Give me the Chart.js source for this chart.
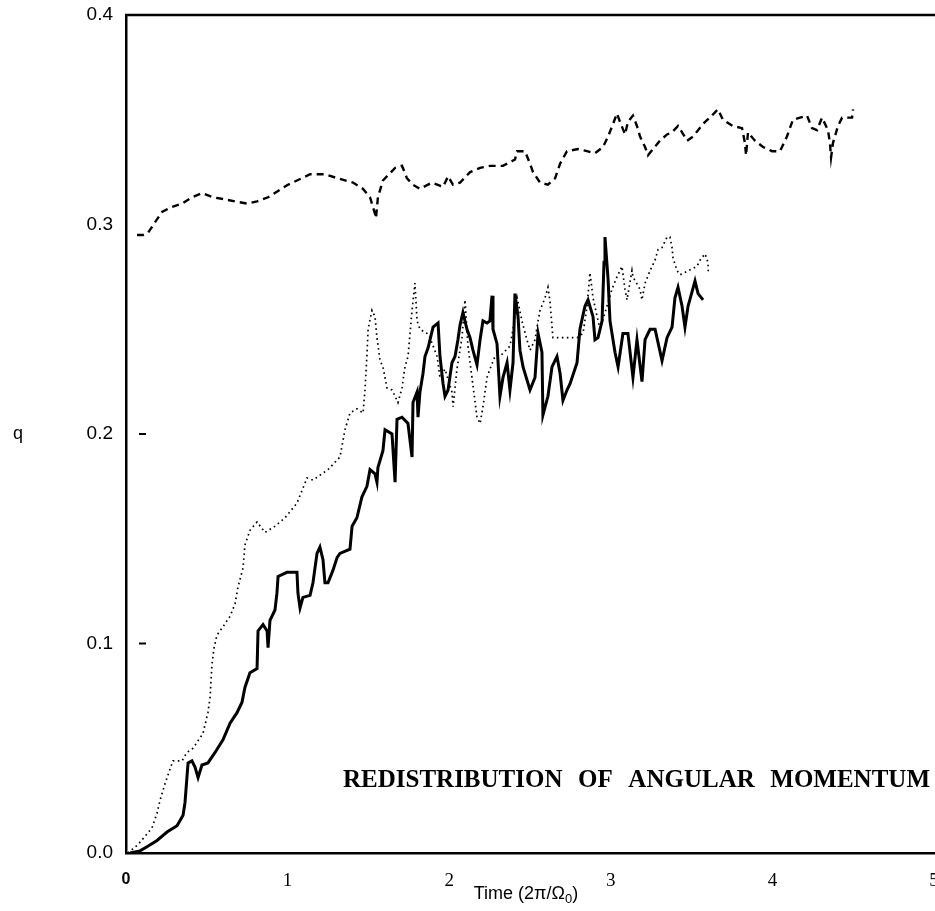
<!DOCTYPE html>
<html>
<head>
<meta charset="utf-8">
<script src="https://cdn.jsdelivr.net/npm/chart.js@4.4.0/dist/chart.umd.min.js"></script>
<style>
  html, body { margin: 0; padding: 0; background: #fff; overflow: hidden; }
</style>
</head>
<body>
<canvas id="chartQ" width="952" height="911"></canvas>
<script>
// tick values
const xTicks = [0, 1, 2, 3, 4, 5];
const yTicks = [0, 0.1, 0.2, 0.3, 0.4];

// dashed curve (top)
const dashedTime = [0.068, 0.105, 0.136, 0.179, 0.223, 0.272, 0.347, 0.408, 0.470, 0.538, 0.613, 0.675, 0.749, 0.811, 0.879, 0.941, 1.002, 1.058, 1.139, 1.231, 1.312, 1.405, 1.467, 1.510, 1.541, 1.547, 1.559, 1.590, 1.665, 1.708, 1.739, 1.776, 1.819, 1.894, 1.962, 1.993, 2.023, 2.067, 2.129, 2.191, 2.252, 2.333, 2.407, 2.420, 2.469, 2.500, 2.519, 2.562, 2.611, 2.655, 2.686, 2.729, 2.797, 2.853, 2.902, 2.952, 2.983, 3.014, 3.038, 3.057, 3.088, 3.106, 3.137, 3.162, 3.181, 3.212, 3.230, 3.261, 3.304, 3.348, 3.379, 3.416, 3.441, 3.472, 3.509, 3.540, 3.571, 3.626, 3.663, 3.694, 3.756, 3.812, 3.830, 3.837, 3.849, 3.892, 3.942, 3.998, 4.047, 4.090, 4.127, 4.171, 4.214, 4.245, 4.276, 4.307, 4.344, 4.356, 4.363, 4.375, 4.406, 4.431, 4.493, 4.499];
const dashedQ = [0.295, 0.295, 0.296, 0.301, 0.306, 0.308, 0.310, 0.313, 0.315, 0.313, 0.312, 0.311, 0.310, 0.311, 0.313, 0.316, 0.319, 0.321, 0.324, 0.324, 0.322, 0.320, 0.317, 0.313, 0.305, 0.303, 0.313, 0.321, 0.327, 0.328, 0.322, 0.319, 0.317, 0.320, 0.318, 0.323, 0.319, 0.320, 0.325, 0.327, 0.328, 0.328, 0.331, 0.335, 0.335, 0.329, 0.325, 0.320, 0.319, 0.322, 0.329, 0.335, 0.336, 0.335, 0.334, 0.337, 0.342, 0.348, 0.353, 0.349, 0.343, 0.349, 0.352, 0.347, 0.342, 0.337, 0.333, 0.336, 0.340, 0.343, 0.344, 0.347, 0.344, 0.340, 0.342, 0.345, 0.348, 0.352, 0.355, 0.350, 0.347, 0.346, 0.339, 0.333, 0.344, 0.340, 0.337, 0.335, 0.335, 0.342, 0.350, 0.351, 0.352, 0.346, 0.345, 0.351, 0.345, 0.339, 0.332, 0.339, 0.347, 0.351, 0.351, 0.355];

// dotted curve
const dottedTime = [0.012, 0.074, 0.118, 0.161, 0.192, 0.210, 0.241, 0.272, 0.291, 0.347, 0.377, 0.415, 0.476, 0.507, 0.520, 0.532, 0.545, 0.563, 0.600, 0.644, 0.675, 0.693, 0.724, 0.736, 0.767, 0.811, 0.860, 0.922, 0.984, 1.058, 1.120, 1.157, 1.250, 1.324, 1.355, 1.386, 1.429, 1.467, 1.479, 1.491, 1.498, 1.522, 1.541, 1.553, 1.572, 1.590, 1.615, 1.646, 1.665, 1.683, 1.708, 1.726, 1.745, 1.770, 1.788, 1.801, 1.819, 1.863, 1.881, 1.925, 1.943, 1.974, 2.017, 2.024, 2.048, 2.079, 2.098, 2.116, 2.172, 2.191, 2.209, 2.234, 2.252, 2.283, 2.314, 2.376, 2.395, 2.420, 2.450, 2.481, 2.500, 2.531, 2.550, 2.562, 2.593, 2.611, 2.624, 2.642, 2.704, 2.748, 2.791, 2.828, 2.853, 2.871, 2.890, 2.933, 2.976, 3.007, 3.038, 3.069, 3.088, 3.100, 3.131, 3.137, 3.181, 3.193, 3.212, 3.243, 3.274, 3.292, 3.317, 3.348, 3.366, 3.379, 3.385, 3.410, 3.428, 3.533, 3.552, 3.583, 3.601, 3.604];
const dottedQ = [0.000, 0.004, 0.008, 0.012, 0.019, 0.025, 0.033, 0.040, 0.044, 0.044, 0.048, 0.050, 0.057, 0.067, 0.074, 0.090, 0.098, 0.104, 0.108, 0.113, 0.119, 0.127, 0.136, 0.147, 0.154, 0.158, 0.153, 0.156, 0.160, 0.167, 0.179, 0.178, 0.183, 0.189, 0.202, 0.210, 0.212, 0.210, 0.221, 0.238, 0.250, 0.259, 0.256, 0.246, 0.235, 0.232, 0.222, 0.221, 0.218, 0.215, 0.222, 0.232, 0.237, 0.259, 0.272, 0.254, 0.250, 0.248, 0.246, 0.237, 0.227, 0.231, 0.220, 0.213, 0.231, 0.246, 0.264, 0.242, 0.208, 0.205, 0.213, 0.227, 0.231, 0.237, 0.237, 0.242, 0.250, 0.265, 0.254, 0.245, 0.240, 0.245, 0.254, 0.259, 0.265, 0.270, 0.263, 0.246, 0.246, 0.246, 0.246, 0.248, 0.261, 0.277, 0.265, 0.250, 0.261, 0.269, 0.275, 0.280, 0.269, 0.264, 0.278, 0.275, 0.269, 0.264, 0.272, 0.278, 0.283, 0.288, 0.289, 0.294, 0.294, 0.289, 0.284, 0.278, 0.276, 0.280, 0.283, 0.286, 0.282, 0.276];

// solid curve
const solidTime = [0.025, 0.087, 0.130, 0.192, 0.254, 0.316, 0.353, 0.365, 0.377, 0.384, 0.408, 0.427, 0.446, 0.470, 0.507, 0.551, 0.600, 0.644, 0.687, 0.718, 0.736, 0.767, 0.811, 0.817, 0.848, 0.873, 0.879, 0.891, 0.922, 0.934, 0.941, 0.996, 1.058, 1.064, 1.077, 1.095, 1.139, 1.157, 1.182, 1.200, 1.219, 1.231, 1.250, 1.281, 1.306, 1.324, 1.386, 1.399, 1.429, 1.460, 1.491, 1.510, 1.541, 1.553, 1.559, 1.590, 1.603, 1.646, 1.665, 1.677, 1.708, 1.745, 1.770, 1.776, 1.801, 1.807, 1.819, 1.838, 1.850, 1.869, 1.900, 1.931, 1.943, 1.962, 1.974, 1.993, 2.017, 2.036, 2.054, 2.067, 2.085, 2.110, 2.129, 2.147, 2.172, 2.191, 2.209, 2.234, 2.252, 2.265, 2.271, 2.296, 2.314, 2.333, 2.358, 2.376, 2.395, 2.407, 2.426, 2.438, 2.457, 2.500, 2.531, 2.550, 2.574, 2.580, 2.611, 2.636, 2.667, 2.686, 2.704, 2.729, 2.748, 2.791, 2.809, 2.840, 2.859, 2.890, 2.902, 2.921, 2.946, 2.958, 2.964, 2.983, 2.995, 3.026, 3.045, 3.075, 3.106, 3.137, 3.162, 3.193, 3.212, 3.243, 3.274, 3.317, 3.348, 3.379, 3.397, 3.416, 3.441, 3.459, 3.478, 3.521, 3.540, 3.571];
const solidQ = [0.000, 0.001, 0.003, 0.006, 0.010, 0.013, 0.018, 0.024, 0.036, 0.043, 0.044, 0.041, 0.036, 0.042, 0.043, 0.048, 0.054, 0.062, 0.067, 0.072, 0.079, 0.086, 0.088, 0.106, 0.109, 0.106, 0.098, 0.111, 0.116, 0.124, 0.132, 0.134, 0.134, 0.124, 0.117, 0.122, 0.123, 0.129, 0.143, 0.146, 0.140, 0.129, 0.129, 0.135, 0.141, 0.143, 0.145, 0.156, 0.160, 0.170, 0.175, 0.183, 0.181, 0.177, 0.184, 0.192, 0.202, 0.200, 0.177, 0.207, 0.208, 0.205, 0.189, 0.215, 0.220, 0.208, 0.220, 0.229, 0.237, 0.241, 0.251, 0.253, 0.237, 0.224, 0.218, 0.221, 0.234, 0.237, 0.245, 0.252, 0.258, 0.250, 0.246, 0.240, 0.233, 0.245, 0.254, 0.253, 0.254, 0.266, 0.250, 0.243, 0.218, 0.227, 0.234, 0.221, 0.234, 0.267, 0.256, 0.240, 0.232, 0.221, 0.227, 0.248, 0.239, 0.209, 0.218, 0.232, 0.237, 0.229, 0.216, 0.221, 0.224, 0.234, 0.250, 0.261, 0.264, 0.256, 0.245, 0.246, 0.254, 0.282, 0.294, 0.274, 0.254, 0.239, 0.232, 0.248, 0.248, 0.227, 0.245, 0.225, 0.245, 0.250, 0.250, 0.235, 0.246, 0.251, 0.265, 0.270, 0.261, 0.251, 0.261, 0.273, 0.267, 0.264];

function pairs(ts, qs) {
  return ts.map((t, i) => ({ x: t, y: qs[i] }));
}

const extras = {
  id: "extras",
  afterDraw(chart) {
    const { ctx, chartArea, scales } = chart;
    ctx.save();
    ctx.fillStyle = "#000";
    ctx.strokeStyle = "#000";

    // top frame line
    ctx.lineWidth = 2.5;
    ctx.beginPath();
    ctx.moveTo(chartArea.left - 1, chartArea.top);
    ctx.lineTo(chart.width, chartArea.top);
    ctx.stroke();

    // little inner tick marks
    ctx.lineWidth = 2;
    [0.1, 0.2].forEach(v => {
      const y = scales.y.getPixelForValue(v);
      ctx.beginPath();
      ctx.moveTo(chartArea.left + 13, y);
      ctx.lineTo(chartArea.left + 20, y);
      ctx.stroke();
    });

    // q label
    ctx.font = '18px "Liberation Sans"';
    ctx.textAlign = "center";
    ctx.textBaseline = "middle";
    ctx.fillText("q", 18, scales.y.getPixelForValue(0.2));

    // x axis title with subscript
    const cx = (chartArea.left + chartArea.right) / 2 - 4;
    const ty = 899;
    ctx.textBaseline = "alphabetic";
    ctx.textAlign = "left";
    const mainFont = '18px "Liberation Sans"';
    const subFont = '13px "Liberation Sans"';
    ctx.font = mainFont;
    const a = "Time (2\u03C0/\u03A9";
    const wa = ctx.measureText(a).width;
    ctx.font = subFont;
    const wsub = ctx.measureText("0").width;
    ctx.font = mainFont;
    const wc = ctx.measureText(")").width;
    let x0 = cx - (wa + wsub + wc) / 2;
    ctx.fillText(a, x0, ty);
    ctx.font = subFont;
    ctx.fillText("0", x0 + wa, ty + 4);
    ctx.font = mainFont;
    ctx.fillText(")", x0 + wa + wsub, ty);

    // annotation
    const words = ["REDISTRIBUTION", "OF", "ANGULAR", "MOMENTUM"];
    ctx.font = 'bold 25px "Liberation Serif"';
    const total = words.reduce((s, w) => s + ctx.measureText(w).width, 0);
    const gap = Math.max(8, (587 - total) / (words.length - 1));
    let wx = 343;
    words.forEach(w => {
      ctx.fillText(w, wx, 787);
      wx += ctx.measureText(w).width + gap;
    });
    ctx.restore();
  }
};

const chartQ = new Chart("chartQ", {
  type: "line",
  data: {
    datasets: [
      {
        label: "dashed",
        data: pairs(dashedTime, dashedQ),
        borderColor: "#000",
        borderWidth: 2.4,
        borderDash: [7, 5],
        pointRadius: 0,
        tension: 0,
      },
      {
        label: "dotted",
        data: pairs(dottedTime, dottedQ),
        borderColor: "#000",
        borderWidth: 1.7,
        borderDash: [1.6, 3.4],
        pointRadius: 0,
        tension: 0,
      },
      {
        label: "solid",
        data: pairs(solidTime, solidQ),
        borderColor: "#000",
        borderWidth: 3,
        pointRadius: 0,
        tension: 0,
      },
    ],
  },
  options: {
    responsive: false,
    animation: false,
    layout: { padding: { top: 15, right: 18, bottom: 0, left: 0 } },
    plugins: {
      legend: { display: false },
      tooltip: { enabled: false },
    },
    scales: {
      x: {
        type: "linear",
        min: 0,
        max: 5,
        afterBuildTicks: scale => { scale.ticks = xTicks.map(v => ({ value: v })); },
        afterFit: scale => {
          scale.height = 58;
          scale.paddingLeft = 0;
          scale.paddingRight = 0;
        },
        grid: { display: false, drawTicks: false },
        border: { display: true, color: "#000", width: 2.5 },
        ticks: {
          color: "#000",
          padding: 17,
          maxRotation: 0,
          callback: v => String(v),
          font: ctx => ctx.index === 0
            ? { family: "Liberation Sans", size: 16, weight: "bold" }
            : { family: "Liberation Serif", size: 19 },
        },
      },
      y: {
        min: 0,
        max: 0.4,
        afterBuildTicks: scale => { scale.ticks = yTicks.map(v => ({ value: v })); },
        afterFit: scale => {
          scale.width = 126;
          scale.paddingTop = 0;
          scale.paddingBottom = 0;
        },
        grid: { display: false, drawTicks: false },
        border: { display: true, color: "#000", width: 2.5 },
        ticks: {
          color: "#000",
          padding: 13,
          callback: v => v.toFixed(1),
          font: { family: "Liberation Sans", size: 19 },
        },
      },
    },
  },
  plugins: [extras],
});
</script>
</body>
</html>
